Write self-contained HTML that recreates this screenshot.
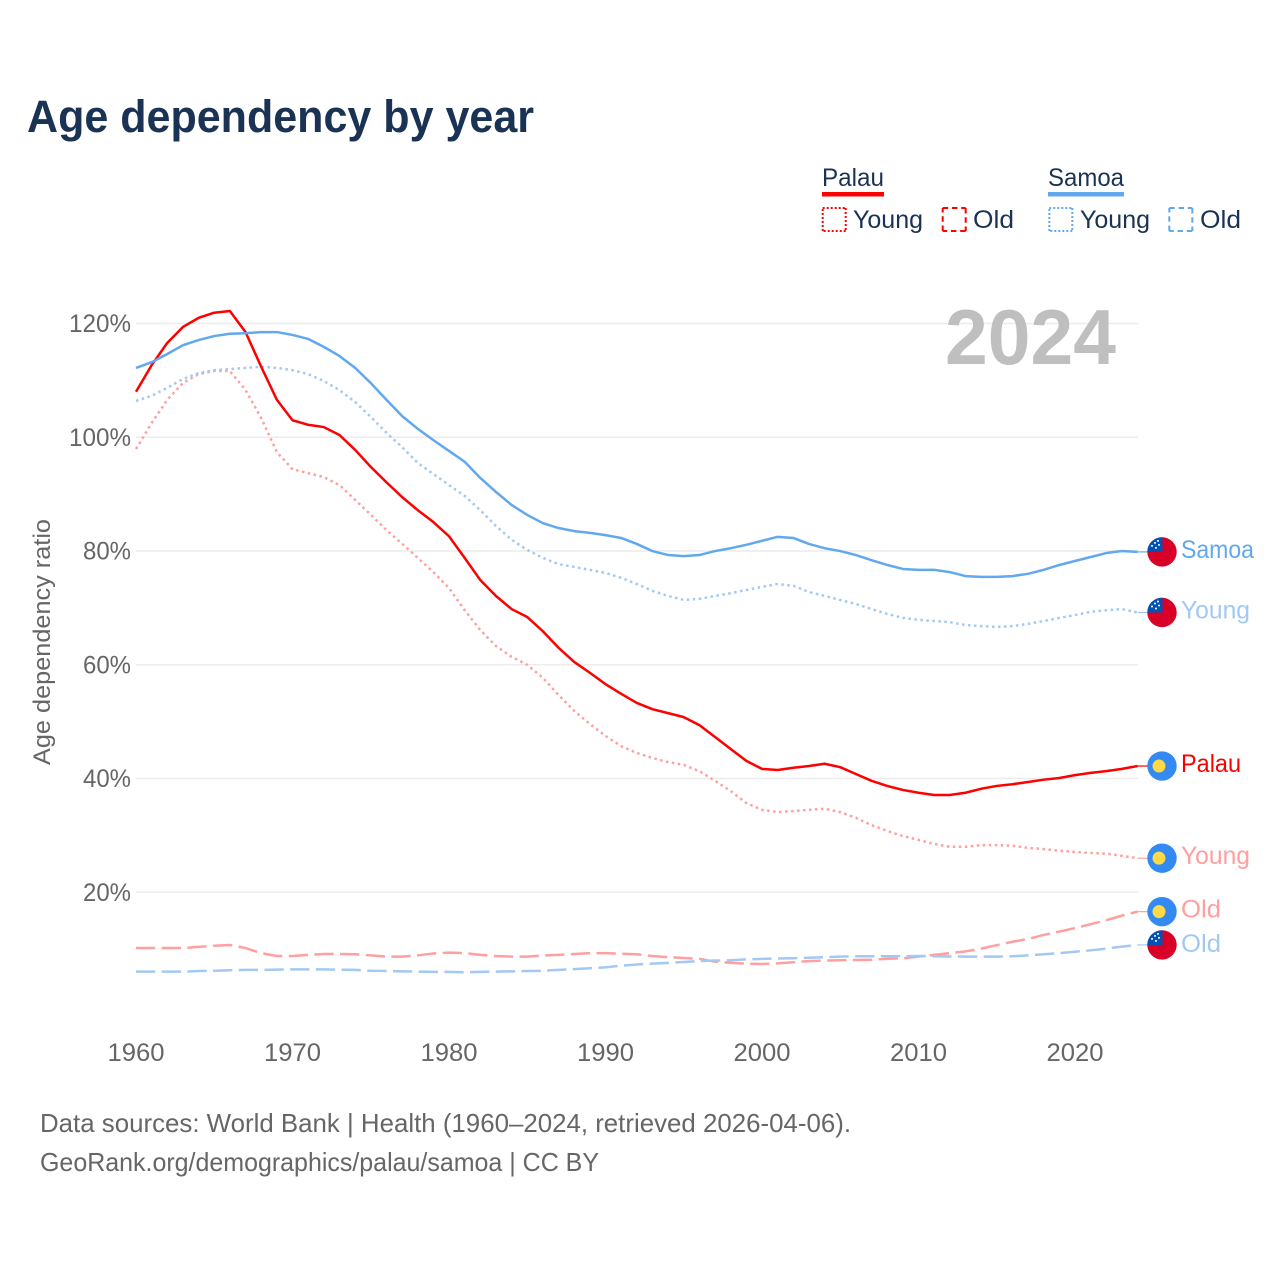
<!DOCTYPE html>
<html lang="en">
<head>
<meta charset="utf-8">
<title>Age dependency by year</title>
<style>
html,body{margin:0;padding:0;background:#fff;}
svg{display:block;font-family:"Liberation Sans",sans-serif;}
</style>
</head>
<body>
<svg id="chart" xmlns="http://www.w3.org/2000/svg" width="1280" height="1280" viewBox="0 0 1280 1280">
  <rect width="1280" height="1280" fill="#fff"/>
  <text x="27" y="132" font-size="45" font-weight="700" fill="#1a3253" textLength="507" lengthAdjust="spacingAndGlyphs">Age dependency by year</text>

  <g font-size="25" fill="#1a3253">
    <text x="822" y="186" textLength="62" lengthAdjust="spacingAndGlyphs">Palau</text>
    <rect x="822" y="192" width="62" height="4.5" fill="#ff0000"/>
    <path d="M822.7 208H845.7M845.7 208V231M845.7 231H822.7M822.7 231V208" fill="none" stroke="#ff0000" stroke-width="2" stroke-dasharray="2 2"/>
    <text x="853" y="228" textLength="70" lengthAdjust="spacingAndGlyphs">Young</text>
    <path d="M942.7 208H965.7M965.7 208V231M965.7 231H942.7M942.7 231V208" fill="none" stroke="#ff0000" stroke-width="2" stroke-dasharray="5.5 3.75"/>
    <text x="973" y="228" textLength="41" lengthAdjust="spacingAndGlyphs">Old</text>
    <text x="1048" y="186" textLength="76" lengthAdjust="spacingAndGlyphs">Samoa</text>
    <rect x="1048" y="192" width="76" height="4.5" fill="#62a8ee"/>
    <path d="M1049.3 208H1072.3M1072.3 208V231M1072.3 231H1049.3M1049.3 231V208" fill="none" stroke="#62a8ee" stroke-width="2" stroke-dasharray="2 2"/>
    <text x="1080" y="228" textLength="70" lengthAdjust="spacingAndGlyphs">Young</text>
    <path d="M1169.3 208H1192.3M1192.3 208V231M1192.3 231H1169.3M1169.3 231V208" fill="none" stroke="#62a8ee" stroke-width="2" stroke-dasharray="5.5 3.75"/>
    <text x="1200" y="228" textLength="41" lengthAdjust="spacingAndGlyphs">Old</text>
  </g>

  <g id="grid"></g>
  <g id="yticks"></g>
  <g id="xticks"></g>
  <text x="945" y="364" font-size="78" font-weight="700" fill="#bfbfbf" textLength="171" lengthAdjust="spacingAndGlyphs">2024</text>
  <text transform="translate(50 642) rotate(-90)" text-anchor="middle" font-size="24" fill="#666" textLength="246" lengthAdjust="spacingAndGlyphs">Age dependency ratio</text>
  <g id="series"></g>
  <g id="ends"></g>

  <text x="40" y="1132" font-size="26" fill="#666" textLength="811" lengthAdjust="spacingAndGlyphs">Data sources: World Bank | Health (1960–2024, retrieved 2026-04-06).</text>
  <text x="40" y="1171" font-size="26" fill="#666" textLength="559" lengthAdjust="spacingAndGlyphs">GeoRank.org/demographics/palau/samoa | CC BY</text>
</svg>
<script>
const startYear = 1960;
const xTickYears = [1960, 1970, 1980, 1990, 2000, 2010, 2020];
const yTickValues = [20, 40, 60, 80, 100, 120];

const palauTotal = [108.0,112.7,116.6,119.4,121.0,121.9,122.2,118.5,112.4,106.6,103.0,102.2,101.8,100.4,97.8,94.8,92.1,89.5,87.2,85.1,82.6,78.8,74.9,72.1,69.8,68.4,65.9,63.0,60.5,58.6,56.6,54.9,53.3,52.2,51.5,50.8,49.4,47.3,45.2,43.1,41.7,41.5,41.9,42.2,42.6,42.0,40.8,39.6,38.7,38.0,37.5,37.1,37.1,37.5,38.2,38.7,39.0,39.4,39.8,40.1,40.6,41.0,41.3,41.7,42.2];
const palauYoung = [97.95,102.5,106.6,109.55,111.1,111.66,111.66,108.3,103.4,97.4,94.4,93.7,93.0,91.6,89.0,86.4,83.7,81.3,78.8,76.3,73.5,69.6,66.1,63.3,61.4,60.0,57.7,54.7,51.9,49.6,47.5,45.7,44.5,43.6,42.9,42.4,41.3,39.6,37.8,35.7,34.5,34.1,34.3,34.5,34.7,34.1,33.1,31.8,30.8,29.9,29.2,28.5,28.0,28.0,28.3,28.3,28.2,27.8,27.6,27.3,27.1,26.9,26.8,26.4,26.0];
const palauOld = [10.2,10.2,10.2,10.2,10.4,10.6,10.74,10.2,9.3,8.8,8.8,9.0,9.15,9.15,9.1,8.9,8.7,8.7,8.9,9.25,9.4,9.3,9.0,8.8,8.7,8.7,8.9,9.0,9.15,9.3,9.3,9.2,9.1,8.8,8.6,8.45,8.3,7.8,7.6,7.45,7.4,7.5,7.7,7.9,8.0,8.05,8.1,8.15,8.3,8.4,8.7,9.0,9.3,9.6,10.1,10.7,11.3,11.8,12.5,13.1,13.7,14.4,15.1,15.9,16.6];
const samoaTotal = [112.2,113.2,114.65,116.2,117.1,117.8,118.2,118.3,118.5,118.5,118.0,117.3,115.9,114.3,112.2,109.55,106.6,103.75,101.5,99.5,97.6,95.7,92.85,90.4,88.1,86.35,84.9,84.05,83.5,83.2,82.8,82.3,81.25,80.0,79.3,79.1,79.3,80.0,80.5,81.1,81.8,82.5,82.3,81.25,80.5,80.0,79.3,78.4,77.55,76.85,76.7,76.7,76.3,75.6,75.45,75.45,75.6,76.0,76.7,77.55,78.25,78.95,79.65,80.0,79.85];
const samoaYoung = [106.4,107.3,108.7,110.25,111.3,111.8,112.0,112.2,112.4,112.2,111.8,111.1,109.9,108.3,106.2,103.6,100.8,98.3,95.5,93.55,91.6,89.7,87.2,84.4,82.0,80.2,78.8,77.7,77.2,76.7,76.15,75.3,74.2,73.0,72.1,71.4,71.6,72.1,72.6,73.15,73.7,74.2,73.9,72.8,72.1,71.4,70.7,69.8,68.95,68.25,67.9,67.7,67.5,67.0,66.8,66.65,66.8,67.2,67.7,68.25,68.75,69.3,69.6,69.8,69.2];
const samoaOld = [6.05,6.05,6.05,6.05,6.17,6.2,6.3,6.35,6.35,6.4,6.45,6.45,6.45,6.4,6.35,6.2,6.17,6.1,6.05,6.0,6.0,5.95,6.0,6.05,6.1,6.17,6.2,6.35,6.5,6.65,6.8,7.1,7.3,7.45,7.6,7.75,7.9,8.0,8.05,8.2,8.3,8.35,8.4,8.5,8.6,8.7,8.75,8.75,8.75,8.78,8.8,8.75,8.72,8.7,8.7,8.7,8.75,8.9,9.1,9.3,9.55,9.8,10.1,10.45,10.75];

const SVGNS = 'http://www.w3.org/2000/svg';
const plot = { x0: 136, pxPerYear: 15.65, y20: 892.3, pxPerPct: 5.6875, right: 1138 };
function xScale(year) { return plot.x0 + (year - startYear) * plot.pxPerYear; }
function yScale(v) { return plot.y20 - (v - 20) * plot.pxPerPct; }
function make(tag, parent, attrs) {
  const el = document.createElementNS(SVGNS, tag);
  for (const k in attrs) el.setAttribute(k, attrs[k]);
  parent.appendChild(el);
  return el;
}

const gridG = document.getElementById('grid');
const yTickG = document.getElementById('yticks');
yTickValues.forEach(function (v) {
  const line = make('line', gridG, { x1: plot.x0, x2: plot.right, y1: yScale(v), y2: yScale(v), stroke: '#ececec', 'stroke-width': 1.5 });
  
  
  const label = make('text', yTickG, { x: 131, y: yScale(v) + 8.5, 'text-anchor': 'end', 'font-size': 25, fill: '#666', textLength: v >= 100 ? 62 : 48, lengthAdjust: 'spacingAndGlyphs' });
  label.textContent = v + '%';
  
  
});

const xTickG = document.getElementById('xticks');
xTickYears.forEach(function (year) {
  const label = make('text', xTickG, { x: xScale(year), y: 1061, 'text-anchor': 'middle', 'font-size': 25, fill: '#666', textLength: 57, lengthAdjust: 'spacingAndGlyphs' });
  label.textContent = String(year);
  
  
});

const seriesList = [
  { key: 'palau-old', values: palauOld, color: '#ff9f9f', dash: '19.3 6.4', label: 'Old', flag: 'palau', w: 40, dy: 6 },
  { key: 'samoa-old', values: samoaOld, color: '#a2c9f3', dash: '19.3 6.4', label: 'Old', flag: 'samoa', w: 40, dy: 7 },
  { key: 'palau-young', values: palauYoung, color: '#ff9f9f', dash: '2.5 3.5', label: 'Young', flag: 'palau', w: 69, dy: 6 },
  { key: 'samoa-young', values: samoaYoung, color: '#a2c9f3', dash: '2.5 3.5', label: 'Young', flag: 'samoa', w: 69, dy: 6 },
  { key: 'palau-total', values: palauTotal, color: '#ff0000', dash: '', label: 'Palau', flag: 'palau', w: 60, dy: 6 },
  { key: 'samoa-total', values: samoaTotal, color: '#62a8ee', dash: '', label: 'Samoa', flag: 'samoa', w: 73, dy: 6 }
];

const seriesG = document.getElementById('series');
const endsG = document.getElementById('ends');
const clipDefs = make('defs', document.getElementById('chart'), {});

function drawPalauFlag(g, cy) {
  const disc = make('circle', g, { cx: 1162, cy: cy, r: 14.7, fill: '#338af3' });
  
  
  const moon = make('circle', g, { cx: 1159, cy: cy, r: 6.5, fill: '#ffda44' });
  
  
}

let clipCounter = 0;
function drawSamoaFlag(g, cy) {
  clipCounter += 1;
  const clip = make('clipPath', clipDefs, { id: 'samoa-clip-' + clipCounter });
  make('circle', clip, { cx: 1162, cy: cy, r: 14.7 });
  const field = make('circle', g, { cx: 1162, cy: cy, r: 14.7, fill: '#d80027' });
  
  
  const canton = make('rect', g, { x: 1147, y: cy - 15, width: 15.5, height: 15, fill: '#0052b4', 'clip-path': 'url(#samoa-clip-' + clipCounter + ')' });
  
  
  [[-7, -9], [-4, -11], [-3, -7], [-10, -6], [-6, -4]].forEach(function (p) {
    const star = make('circle', g, { cx: 1162 + p[0], cy: cy + p[1], r: 1, fill: '#fff' });
    
    
  });
}

seriesList.forEach(function (s) {
  const pts = s.values.map(function (v, i) {
    return xScale(startYear + i).toFixed(2) + ',' + yScale(v).toFixed(2);
  }).join(' ');
  const attrs = { points: pts, fill: 'none', stroke: s.color, 'stroke-width': 2.5, 'stroke-linejoin': 'round' };
  if (s.dash) attrs['stroke-dasharray'] = s.dash;
  const line = make('polyline', seriesG, attrs);
  
  
});

seriesList.forEach(function (s) {
  const last = s.values[s.values.length - 1];
  const lastX = xScale(startYear + s.values.length - 1);
  const lastY = yScale(last);
  const connector = make('line', endsG, { x1: lastX, y1: lastY, x2: 1150, y2: lastY, stroke: s.color, 'stroke-width': 1.2 });
  
  
  const flag = make('g', endsG, {});
  
  
  if (s.flag === 'palau') drawPalauFlag(flag, lastY); else drawSamoaFlag(flag, lastY);
  const label = make('text', endsG, { x: 1181, y: lastY + s.dy, 'font-size': 25, fill: s.color, textLength: s.w, lengthAdjust: 'spacingAndGlyphs' });
  label.textContent = s.label;
  
  
});
</script>
</body>
</html>
